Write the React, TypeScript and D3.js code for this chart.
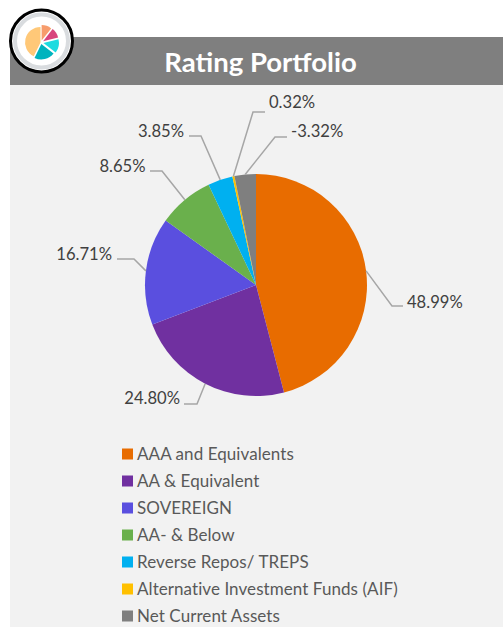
import React from "react";
import * as d3 from "d3";

const categories = ["AAA and Equivalents", "AA & Equivalent", "SOVEREIGN", "AA- & Below", "Reverse Repos/ TREPS", "Alternative Investment Funds (AIF)", "Net Current Assets"];
const values = [48.99, 24.8, 16.71, 8.65, 3.85, 0.32, -3.32];
const labels = ["48.99%", "24.80%", "16.71%", "8.65%", "3.85%", "0.32%", "-3.32%"];
const colors = ["#E86C00", "#7030A0", "#5A4FDF", "#6AB04C", "#00B0F0", "#FFC000", "#7F7F7F"];
const iconValues = [38, 38, 52, 78, 154];
const iconColors = ["#F79C6C", "#D8457E", "#1DDBE0", "#00B3BE", "#FFC878"];
const iconOffsets = [2, 2.5, 2.5, 1.5, 0.5];

// leader layout: elbow x/y, end x, label anchor x, label centre y
const leaderLayout = [
  { ex: 392, ey: 306, tx: 403, lx: 407, ly: 301.5, anchor: "start" },
  { ex: 197, ey: 404, tx: 184, lx: 180, ly: 397.5, anchor: "end" },
  { ex: 134, ey: 259, tx: 117, lx: 112, ly: 253.5, anchor: "end" },
  { ex: 162, ey: 171, tx: 150, lx: 145.5, ly: 165.5, anchor: "end" },
  { ex: 201, ey: 136, tx: 189, lx: 184, ly: 130.5, anchor: "end" },
  { ex: 253, ey: 112, tx: 265, lx: 269, ly: 101.5, anchor: "start" },
  { ex: 275, ey: 137, tx: 287, lx: 291, ly: 130.5, anchor: "start" },
];

const W = 503, H = 627;
const cx = 256, cy = 285, R = 111;
const font = "Lato, 'Open Sans', sans-serif";

export default function App() {
  const pie = d3.pie<number>().value((d) => Math.abs(d)).sort(null);
  const arcs = pie(values);
  const arc = d3.arc<d3.PieArcDatum<number>>().innerRadius(0).outerRadius(R);
  const iconArcs = d3.pie<number>().value((d) => d).sort(null)(iconValues);
  const iconArc = d3.arc<d3.PieArcDatum<number>>().innerRadius(0).outerRadius(15.5);
  const legendY = d3.scalePoint<string>().domain(categories).range([453.5, 615.5]);

  return (
    <svg width={W} height={H} viewBox={`0 0 ${W} ${H}`} style={{ position: "absolute", left: 0, top: 0, fontFamily: font }}>
      <rect x={0} y={0} width={W} height={H} fill="#ffffff" />
      <rect x={10} y={85} width={W - 10} height={H - 85} fill="#F2F2F2" />
      <rect x={10} y={37} width={W - 10} height={48} fill="#7F7F7F" />
      <text x={260.5} y={61} textAnchor="middle" dominantBaseline="central" fontSize={27.5} fontWeight={700} fill="#ffffff">Rating Portfolio</text>

      <g>
        <circle cx={41.5} cy={41} r={31} fill="#ffffff" stroke="#000000" strokeWidth={3} />
        <circle cx={41.5} cy={41} r={26.5} fill="#ffffff" stroke="#D9DCDF" strokeWidth={4} />
        <g transform="translate(41,42.5)">
          {iconArcs.map((d, i) => {
            const [x, y] = iconArc.centroid(d);
            const n = Math.hypot(x, y) || 1;
            return (
              <path key={i} d={iconArc(d) ?? ""} fill={iconColors[i]}
                transform={`translate(${(x / n) * iconOffsets[i]},${(y / n) * iconOffsets[i]})`} />
            );
          })}
        </g>
      </g>

      <g transform={`translate(${cx},${cy})`}>
        {arcs.map((d, i) => <path key={i} d={arc(d) ?? ""} fill={colors[i]} />)}
      </g>

      {arcs.map((d, i) => {
        const mid = (d.startAngle + d.endAngle) / 2;
        const sx = cx + R * Math.sin(mid);
        const sy = cy - R * Math.cos(mid);
        const l = leaderLayout[i];
        return (
          <g key={i}>
            <polyline points={`${sx},${sy} ${l.ex},${l.ey} ${l.tx},${l.ey}`} fill="none" stroke="#A6A6A6" strokeWidth={1.5} />
            <text x={l.lx} y={l.ly} textAnchor={l.anchor as "start" | "end"} dominantBaseline="central" fontSize={16.6} fill="#404040">{labels[i]}</text>
          </g>
        );
      })}

      {categories.map((c, i) => {
        const y = legendY(c) ?? 0;
        return (
          <g key={c}>
            <rect x={122} y={y - 5} width={11} height={11} fill={colors[i]} />
            <text x={137} y={y} dominantBaseline="central" fontSize={17} letterSpacing={0.07} fill="#595959">{c}</text>
          </g>
        );
      })}
    </svg>
  );
}
